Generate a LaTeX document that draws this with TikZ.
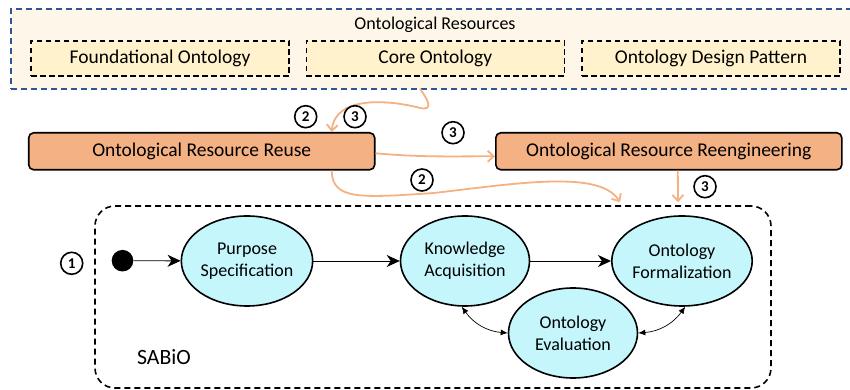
\documentclass[tikz,border=0pt]{standalone}
\usepackage{fontspec}
\setmainfont{Carlito}
\usetikzlibrary{shapes.geometric, arrows.meta}
\definecolor{resfill}{RGB}{254,247,233}
\definecolor{resblue}{RGB}{47,85,151}
\definecolor{kindfill}{RGB}{255,242,204}
\definecolor{procfill}{RGB}{244,177,131}
\definecolor{flow}{RGB}{244,177,131}
\definecolor{actfill}{RGB}{196,246,252}

\tikzset{
  kindbox/.style={draw, dash pattern=on 5.5pt off 3.5pt, line width=1.6pt, fill=kindfill,
    minimum width=258pt, minimum height=35pt, inner sep=0pt, font=\fontsize{19.5}{23}\selectfont},
  procbox/.style={draw, line width=1.6pt, rounded corners=5pt, fill=procfill,
    minimum width=346pt, minimum height=37pt, inner sep=0pt, font=\fontsize{19.5}{23}\selectfont},
  activity/.style={ellipse, draw, line width=1.6pt, fill=actfill, minimum width=129pt,
    minimum height=90pt, inner sep=0pt, align=center, font=\fontsize{18}{21.7}\selectfont},
  numcirc/.style={circle, draw, line width=1.6pt, minimum size=22pt, inner sep=0pt,
    font=\fontsize{15}{15}\selectfont\bfseries},
  reuseflow/.style={draw=flow, line width=1.8pt, -{Straight Barb[length=6pt,width=11pt]}},
  seqflow/.style={line width=0.9pt, -{Stealth[length=13pt,width=12pt,inset=4pt]}},
  evalflow/.style={line width=0.7pt, {Latex[length=7pt,width=6pt]}-{Latex[length=7pt,width=6pt]}}
}

\begin{document}
\begin{tikzpicture}[x=1pt, y=1pt]
    \useasboundingbox (0,0) rectangle (850,390);

    % 1. Ontological resources (top band)
    \node[draw=resblue, dash pattern=on 6pt off 4pt, line width=1.8pt, fill=resfill,
          minimum width=851pt, minimum height=79.4pt, inner sep=0pt] (resources) at (436.5,341) {};
    \node[font=\fontsize{18}{21}\selectfont] (restitle) at (435,365) {Ontological Resources};
    \node[kindbox] (foundational) at (160,331.5) {Foundational Ontology};
    \node[kindbox] (core) at (435.3,331.5) {Core Ontology};
    \node[kindbox] (odp) at (711,331.5) {Ontology Design Pattern};

    % 2. Reuse and reengineering processes
    \node[procbox] (reuse) at (201.7,238.7) {Ontological Resource Reuse};
    \node[procbox] (reeng) at (668.8,238.7) {Ontological Resource Reengineering};

    % 3. SABiO process
    \node[draw, dash pattern=on 6pt off 4pt, line width=1.6pt, rounded corners=20pt,
          minimum width=676pt, minimum height=182pt, inner sep=0pt] (sabio) at (433,93) {};
    \node[font=\fontsize{21.8}{24}\selectfont] (sabiolbl) at (164,33) {SABiO};
    \node[circle, fill=black, minimum size=21.6pt, inner sep=0pt] (start) at (122.5,129.3) {};
    \node[activity] (purpose) at (247,129) {Purpose\\Specification};
    \node[activity] (knowledge) at (465,129) {Knowledge\\Acquisition};
    \node[activity] (formal) at (682,129) {Ontology\\Formalization};
    \node[activity] (eval) at (573,57) {Ontology\\Evaluation};

    \draw[seqflow] (start) -- (purpose);
    \draw[seqflow] (purpose) -- (knowledge);
    \draw[seqflow] (knowledge) -- (formal);
    \draw[evalflow] (knowledge.-94) to[bend right=25] (eval.west);
    \draw[evalflow] (eval.east) to[bend right=25] (formal.-86);

    % 4. Scenario flows
    \coordinate (resout) at (420,301.3);
    \coordinate (reusetip) at ([xshift=187pt, yshift=3pt]sabio.north);
    \coordinate (reengtip) at ([xshift=245pt, yshift=3pt]sabio.north);
    \draw[reuseflow] (resout) .. controls (428,290) and (434,279) .. (420,282)
        .. controls (390,290) and (335,295) .. ([xshift=130pt]reuse.north);
    \draw[reuseflow] ([yshift=-2pt]reuse.east) to[out=-5, in=180] ([yshift=-5pt]reeng.west);
    \draw[reuseflow] ([xshift=130pt]reuse.south) .. controls (332,190) and (360,192) .. (434,197)
        .. controls (520,207) and (600,220) .. (reusetip);
    \draw[reuseflow] ([xshift=9pt]reeng.south) -- (reengtip);

    % scenario numbers
    \node[numcirc] (sc1) at (71.7,126.7) {1};
    \node[numcirc] (sc2a) at (305.7,273.3) {2};
    \node[numcirc] (sc3a) at (355,273.3) {3};
    \node[numcirc] (sc3b) at (453,257.3) {3};
    \node[numcirc] (sc2b) at (422,210) {2};
    \node[numcirc] (sc3c) at (705,203.3) {3};

\end{tikzpicture}
\end{document}
